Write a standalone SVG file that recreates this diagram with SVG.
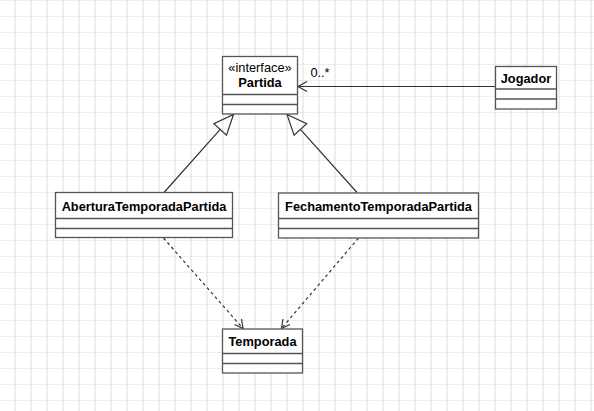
<svg xmlns="http://www.w3.org/2000/svg" width="594" height="411" viewBox="0 0 594 411">
<style>
.box{fill:#ffffff;stroke:#555555;stroke-width:1.3}
.div{stroke:#555555;stroke-width:1.3;fill:none}
.t{font-family:"Liberation Sans",Arial,sans-serif;font-size:12.8px;fill:#000000;text-anchor:middle}
.b{font-weight:bold}
.edge{stroke:#333333;stroke-width:1.2;fill:none}
.dash{stroke-dasharray:3,3}
</style>
<defs>
<pattern id="grid" width="16" height="16" patternUnits="userSpaceOnUse">
<line x1="15" y1="0" x2="15" y2="16" stroke="#dedede" stroke-width="1"/>
<line x1="0" y1="0" x2="16" y2="0" stroke="#dedede" stroke-width="1"/>
</pattern>
</defs>
<rect x="0" y="0" width="594" height="411" fill="#ffffff"/>
<rect x="0" y="0" width="594" height="411" fill="url(#grid)"/>
<g id="connectors">
<line class="edge" x1="495" y1="86.5" x2="298" y2="86.5"/>
<polyline class="edge" points="307,81.5 298,86.5 307,91.5"/>
<text class="t" x="320" y="77">0..*</text>
<line class="edge" x1="164" y1="192.5" x2="220.2" y2="129.4"/>
<polygon class="edge" fill="#ffffff" points="233.5,114.5 226.5,135.1 213.9,123.7"/>
<line class="edge" x1="357" y1="192.5" x2="300.4" y2="129.4"/>
<polygon class="edge" fill="#ffffff" points="287,114.5 306.7,123.7 294.1,135.1"/>
<line class="edge dash" x1="163.5" y1="238" x2="243" y2="328.5"/>
<polyline class="edge" points="234.5,324.5 243,328.5 241.5,319"/>
<line class="edge dash" x1="358.5" y1="238" x2="281.5" y2="328.5"/>
<polyline class="edge" points="283,319 281.5,328.5 290,324.5"/>
</g>
<g id="Partida">
<rect class="box" x="222.5" y="56.5" width="75" height="57.5"/>
<line class="div" x1="222.5" y1="94.5" x2="297.5" y2="94.5"/>
<line class="div" x1="222.5" y1="104.5" x2="297.5" y2="104.5"/>
<text class="t" x="260" y="71.5">«interface»</text>
<text class="t b" x="260" y="87">Partida</text>
</g>
<g id="Jogador">
<rect class="box" x="495.5" y="66.5" width="61" height="42.5"/>
<line class="div" x1="495.5" y1="89" x2="556.5" y2="89"/>
<line class="div" x1="495.5" y1="99" x2="556.5" y2="99"/>
<text class="t b" x="526" y="83">Jogador</text>
</g>
<g id="AberturaTemporadaPartida">
<rect class="box" x="55.5" y="192.5" width="177" height="45"/>
<line class="div" x1="55.5" y1="218.5" x2="232.5" y2="218.5"/>
<line class="div" x1="55.5" y1="228.5" x2="232.5" y2="228.5"/>
<text class="t b" x="144" y="210.5">AberturaTemporadaPartida</text>
</g>
<g id="FechamentoTemporadaPartida">
<rect class="box" x="278.5" y="193" width="200" height="45"/>
<line class="div" x1="278.5" y1="218.5" x2="478.5" y2="218.5"/>
<line class="div" x1="278.5" y1="228.5" x2="478.5" y2="228.5"/>
<text class="t b" x="378.5" y="210.5">FechamentoTemporadaPartida</text>
</g>
<g id="Temporada">
<rect class="box" x="222.5" y="329" width="80" height="44"/>
<line class="div" x1="222.5" y1="353.5" x2="302.5" y2="353.5"/>
<line class="div" x1="222.5" y1="363.5" x2="302.5" y2="363.5"/>
<text class="t b" x="262.5" y="346">Temporada</text>
</g>
</svg>
